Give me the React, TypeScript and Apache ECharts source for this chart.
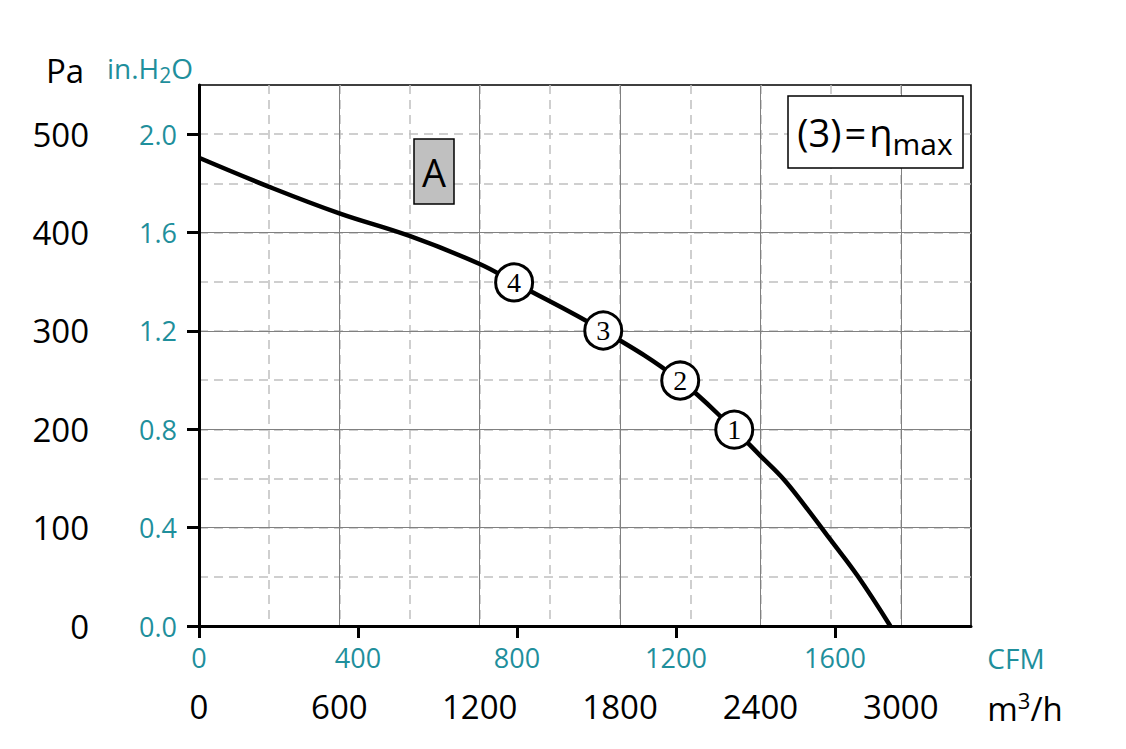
import React, { useEffect, useRef } from "react";
import * as echarts from "echarts";

// Fan curve (flow in m³/h, static pressure in Pa)
const flowM3h = [0, 300, 600, 900, 1200, 1347, 1728, 2057, 2288, 2400, 2500, 2600, 2700, 2815, 2955];
const pressurePa = [476, 446.5, 419.5, 396.5, 368, 349.3, 300.4, 249.5, 199.6, 173, 149, 119, 87.5, 51, 0];

// Numbered operating points
const pointLabels = ["4", "3", "2", "1"];
const pointFlow = [1347, 1728, 2057, 2288];
const pointPressure = [349.3, 300.4, 249.5, 199.6];

// Tick labels
const m3hTicks = [0, 600, 1200, 1800, 2400, 3000];
const cfmTicks = [0, 400, 800, 1200, 1600];
const paTicks = [0, 100, 200, 300, 400, 500];
const inH2OTicks = [0, 0.4, 0.8, 1.2, 1.6, 2.0];

const M3H_MAX = 3300;
const PA_MAX = 550;
const M3H_PER_CFM = 1.69901;
const PA_PER_INH2O = 250;

const FONT = "'Open Sans', 'Noto Sans', sans-serif";
const TEAL = "#1f8f9c";

export default function App() {
  const ref = useRef<HTMLDivElement>(null);

  useEffect(() => {
    document.body.style.margin = "0";
    if (!ref.current) return;
    const chart = echarts.init(ref.current, undefined, { renderer: "svg" });

    const curve = flowM3h.map((f, i) => [f, pressurePa[i]]);
    const points = pointLabels.map((n, i) => ({ name: n, value: [pointFlow[i], pointPressure[i]] }));

    const option: any = {
      animation: false,
      backgroundColor: "#ffffff",
      textStyle: { fontFamily: FONT },
      grid: {
        left: 199,
        top: 85,
        right: 155,
        bottom: 123,
        show: true,
        borderColor: "#000",
        borderWidth: 1.5,
        backgroundColor: "transparent",
      },
      xAxis: [
        {
          type: "value",
          min: 0,
          max: M3H_MAX,
          interval: 600,
          position: "bottom",
          z: 3,
          axisLine: { show: true, onZero: false, lineStyle: { color: "#000", width: 3 } },
          axisTick: { show: false },
          axisLabel: {
            customValues: m3hTicks,
            formatter: (v: number) => String(v),
            color: "#000",
            fontSize: 33,
            fontFamily: FONT,
            margin: 64,
          },
          splitLine: {
            show: true,
            showMinLine: false,
            showMaxLine: false,
            lineStyle: { color: "#808080", width: 1 },
          },
        },
        {
          type: "value",
          min: 0,
          max: M3H_MAX / M3H_PER_CFM,
          position: "bottom",
          z: 3,
          axisLine: { show: false },
          axisTick: {
            show: true,
            customValues: cfmTicks,
            length: 12,
            lineStyle: { color: "#000", width: 3 },
          },
          axisLabel: {
            customValues: cfmTicks,
            formatter: (v: number) => String(v),
            color: TEAL,
            fontSize: 27,
            fontFamily: FONT,
            margin: 18,
          },
          splitLine: { show: false },
        },
        {
          type: "value",
          min: 0,
          max: M3H_MAX,
          interval: 300,
          position: "bottom",
          z: 1,
          axisLine: { show: false },
          axisTick: { show: false },
          axisLabel: { show: false },
          splitLine: {
            show: true,
            showMinLine: false,
            showMaxLine: false,
            lineStyle: { color: "#c0c0c0", width: 1.5, type: [9, 6] },
          },
        },
      ],
      yAxis: [
        {
          type: "value",
          min: 0,
          max: PA_MAX,
          interval: 100,
          position: "left",
          z: 3,
          axisLine: { show: true, onZero: false, lineStyle: { color: "#000", width: 3 } },
          axisTick: {
            show: true,
            customValues: paTicks,
            length: 12,
            lineStyle: { color: "#000", width: 3 },
          },
          axisLabel: {
            customValues: paTicks,
            formatter: (v: number) => String(v),
            color: "#000",
            fontSize: 33,
            fontFamily: FONT,
            margin: 110,
          },
          splitLine: {
            show: true,
            showMinLine: false,
            showMaxLine: false,
            lineStyle: { color: "#808080", width: 1 },
          },
        },
        {
          type: "value",
          min: 0,
          max: PA_MAX / PA_PER_INH2O,
          position: "left",
          z: 3,
          axisLine: { show: false },
          axisTick: { show: false },
          axisLabel: {
            customValues: inH2OTicks,
            formatter: (v: number) => v.toFixed(1),
            color: TEAL,
            fontSize: 27,
            fontFamily: FONT,
            margin: 22,
          },
          splitLine: { show: false },
        },
        {
          type: "value",
          min: 0,
          max: PA_MAX,
          interval: 50,
          position: "left",
          z: 1,
          axisLine: { show: false },
          axisTick: { show: false },
          axisLabel: { show: false },
          splitLine: {
            show: true,
            showMinLine: false,
            showMaxLine: false,
            lineStyle: { color: "#c0c0c0", width: 1.5, type: [9, 6] },
          },
        },
      ],
      series: [
        {
          type: "line",
          xAxisIndex: 0,
          yAxisIndex: 0,
          data: curve,
          symbol: "none",
          smooth: 0.4,
          lineStyle: { color: "#000", width: 4.5 },
          z: 5,
        },
        {
          type: "scatter",
          xAxisIndex: 0,
          yAxisIndex: 0,
          data: points,
          symbol: "circle",
          symbolSize: 37,
          itemStyle: { color: "#fff", borderColor: "#000", borderWidth: 3, opacity: 1 },
          label: {
            show: true,
            position: "inside",
            formatter: (p: any) => p.name,
            color: "#000",
            fontFamily: "'Liberation Serif', 'DejaVu Serif', serif",
            fontSize: 28,
          },
          z: 6,
        },
      ],
      graphic: [
        {
          type: "text",
          x: 65,
          y: 70,
          z: 100,
          style: { text: "Pa", fill: "#000", font: `33px ${FONT}`, align: "center", verticalAlign: "middle" },
        },
        {
          type: "text",
          x: 150,
          y: 68,
          z: 100,
          style: {
            text: "{a|in.H}{b|2}{a|O}",
            align: "center",
            verticalAlign: "middle",
            rich: {
              a: { fontSize: 28, fontFamily: FONT, fill: TEAL, color: TEAL },
              b: { fontSize: 21, fontFamily: FONT, fill: TEAL, color: TEAL, padding: [14, 0, 0, 0] },
            },
          },
        },
        {
          type: "text",
          x: 1016,
          y: 658,
          z: 100,
          style: { text: "CFM", fill: TEAL, font: `28px ${FONT}`, align: "center", verticalAlign: "middle" },
        },
        {
          type: "text",
          x: 1025,
          y: 708,
          z: 100,
          style: {
            text: "{a|m}{s|3}{a|/h}",
            align: "center",
            verticalAlign: "middle",
            rich: {
              a: { fontSize: 33, fontFamily: FONT, fill: "#000", color: "#000" },
              s: { fontSize: 22, fontFamily: FONT, fill: "#000", color: "#000", padding: [0, 0, 16, 0] },
            },
          },
        },
        {
          type: "rect",
          z: 100,
          shape: { x: 414, y: 139, width: 40, height: 65 },
          style: { fill: "#c0c0c0", stroke: "#000", lineWidth: 1.5 },
        },
        {
          type: "text",
          x: 434,
          y: 172,
          z: 101,
          style: { text: "A", fill: "#000", font: `38px ${FONT}`, align: "center", verticalAlign: "middle" },
        },
        {
          type: "rect",
          z: 100,
          shape: { x: 788, y: 96, width: 175, height: 72 },
          style: { fill: "#fff", stroke: "#000", lineWidth: 1.5 },
        },
        {
          type: "text",
          x: 875,
          y: 132,
          z: 101,
          style: {
            text: "{a|(3)}{e|=}{a|η}{b|max}",
            align: "center",
            verticalAlign: "middle",
            rich: {
              a: { fontSize: 38, fontFamily: FONT, fill: "#000", color: "#000" },
              e: { fontSize: 38, fontFamily: FONT, fill: "#000", color: "#000", padding: [0, 3, 0, 3] },
              b: { fontSize: 30, fontFamily: FONT, fill: "#000", color: "#000", padding: [22, 0, 0, 0] },
            },
          },
        },
      ],
    };

    chart.setOption(option);
    return () => chart.dispose();
  }, []);

  return (
    <div
      ref={ref}
      style={{ position: "absolute", left: 0, top: 0, width: 1126, height: 749, background: "#fff" }}
    />
  );
}
